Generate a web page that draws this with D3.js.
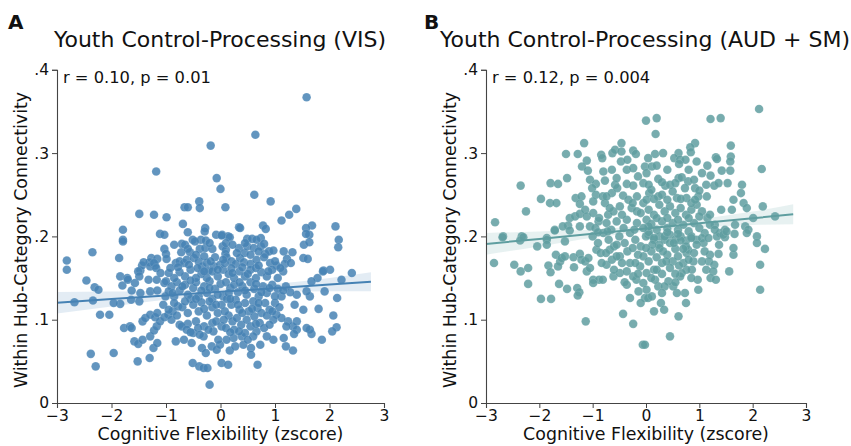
<!DOCTYPE html>
<html>
<head>
<meta charset="utf-8">
<script src="https://cdn.jsdelivr.net/npm/d3@7"></script>
<style>
  body { margin: 0; background: #fff; }
  text { font-family: "DejaVu Sans", sans-serif; fill: #111; }
</style>
</head>
<body>
<div class="chart"></div>
<script>
// panel titles, labels and stats
const panelLetters = ["A", "B"]
const panelTitles = ["Youth Control-Processing (VIS)", "Youth Control-Processing (AUD + SM)"]
const statTexts = ["r = 0.10, p = 0.01", "r = 0.12, p = 0.004"]
const xLabel = "Cognitive Flexibility (zscore)"
const yLabel = "Within Hub-Category Connectivity"
const xTicks = [-3, -2, -1, 0, 1, 2, 3]
const yTicks = [0, 0.1, 0.2, 0.3, 0.4]
const yTickLabels = ["0", ".1", ".2", ".3", ".4"]

// regression fit + confidence band
const fitX = [-3, -2, -1, 0, 1, 2, 2.76]
const fitA = [0.1204, 0.1248, 0.1291, 0.1335, 0.1379, 0.1422, 0.1456]
const loA  = [0.1074, 0.1158, 0.1241, 0.1295, 0.1329, 0.1342, 0.1341]
const hiA  = [0.1334, 0.1338, 0.1341, 0.1375, 0.1429, 0.1502, 0.1571]
const fitB = [0.1910, 0.1970, 0.2033, 0.2095, 0.2157, 0.2218, 0.2265]
const loB  = [0.1780, 0.1880, 0.1983, 0.2055, 0.2107, 0.2138, 0.2145]
const hiB  = [0.2040, 0.2060, 0.2083, 0.2135, 0.2207, 0.2298, 0.2385]

// scatter points [cognitive flexibility, connectivity]
const pointsA = [
[-0.18,0.309],[-1.18,0.278],[-0.07,0.270],[0.00,0.257],[-0.39,0.242],[-0.66,0.235],[-0.60,0.235],[-0.38,0.234],[0.09,0.235],[-1.49,0.227],[-1.22,0.226],[-0.99,0.223],[-0.69,0.215],[-0.28,0.210],[-0.29,0.206],[-1.79,0.208],[-0.60,0.205],[-1.11,0.203],[-1.03,0.202],[-0.08,0.202],[0.03,0.202],[-1.79,0.196],[-0.51,0.196],[-0.36,0.196],
[1.58,0.367],[0.64,0.322],[0.62,0.250],[0.92,0.242],[1.39,0.233],[1.26,0.226],[1.12,0.219],[0.34,0.211],[0.78,0.213],[0.83,0.209],[1.68,0.213],[1.57,0.210],[1.63,0.202],[2.11,0.212],[0.14,0.200],[0.49,0.197],[0.58,0.197],[0.74,0.198],[2.17,0.196],
[-1.79,0.194],[0.02,0.201],[0.17,0.199],[0.36,0.210],[2.16,0.187],[-1.86,0.174],[-2.35,0.181],[-2.82,0.171],[-2.82,0.160],[-2.46,0.147],[-1.84,0.152],[-1.71,0.150],
[-1.27,0.174],[-1.20,0.165],[-1.16,0.173],[-1.03,0.185],[-1.00,0.179],[-0.99,0.173],[-0.71,0.191],[-0.65,0.190],[-0.72,0.181],[-0.56,0.181],[-0.47,0.194],[-0.38,0.185],[-0.28,0.186],[-0.27,0.195],[0.04,0.188],[0.10,0.184],[0.09,0.179],[0.34,0.186],[0.44,0.180],[0.49,0.188],[0.61,0.186],[0.66,0.196],[0.74,0.188],[0.80,0.191],[0.82,0.179],[0.89,0.182],[0.97,0.183],[1.16,0.182],[1.22,0.173],[1.18,0.167],[1.29,0.168],[1.53,0.190],[1.57,0.203],[1.63,0.193],[1.52,0.174],[1.60,0.173],[1.89,0.159],[2.01,0.160],[2.41,0.156],
[-1.47,0.159],[-1.44,0.165],[-1.30,0.169],[-0.82,0.168],[-0.75,0.170],[-0.67,0.168],[-0.62,0.172],[-0.49,0.174],[-0.40,0.170],[-0.34,0.164],[-0.25,0.168],[-0.22,0.159],[-0.12,0.164],[-0.01,0.166],[0.11,0.175],[0.20,0.170],[0.28,0.167],[0.36,0.174],[0.43,0.169],[0.55,0.167],[0.66,0.172],[0.91,0.168],[1.03,0.165],
[-2.31,0.139],[-2.24,0.136],[-2.68,0.121],[-2.34,0.123],[-2.21,0.106],[-2.04,0.106],[-1.80,0.141],[-1.84,0.119],[-1.96,0.120],[-1.77,0.090],[-1.66,0.092],[-1.63,0.090],[-2.38,0.059],[-2.29,0.044],[-1.96,0.060],[-1.70,0.148],[-1.63,0.135],[-1.57,0.144],[-1.51,0.158],[-1.49,0.152],[-1.41,0.169],[-1.29,0.164],[-1.22,0.168],[-1.18,0.162],[-1.32,0.148],[-1.17,0.148],[-1.10,0.156],[-1.03,0.144],[-1.47,0.132],[-1.29,0.134],[-1.16,0.135],[-1.01,0.128],[-1.64,0.124],[-1.49,0.122],[-1.58,0.074],[-1.51,0.071],[-1.43,0.076],[-1.43,0.098],[-1.38,0.102],[-1.29,0.106],[-1.20,0.103],[-1.16,0.108],[-1.52,0.050],[-1.30,0.054],[-1.23,0.066],[-1.16,0.072],[-1.29,0.080],[-1.22,0.087],[-1.17,0.092],[-1.11,0.098],[-1.03,0.103],[-0.96,0.106],[-0.88,0.110],[-0.78,0.116],
[-1.00,0.146],[-0.90,0.140],[-0.80,0.145],[-0.75,0.135],[-0.65,0.142],[-0.60,0.130],[-0.50,0.138],[-0.45,0.145],[-0.40,0.128],[-0.30,0.140],[-0.25,0.132],[-0.20,0.146],[-0.15,0.125],[-0.10,0.137],[0.00,0.143],[0.05,0.128],[-0.55,0.125],[-0.85,0.128],[-0.95,0.134],
[-1.05,0.118],[-0.95,0.112],[-0.85,0.120],[-0.70,0.115],[-0.60,0.108],[-0.50,0.118],[-0.40,0.110],[-0.35,0.121],[-0.25,0.105],[-0.15,0.115],[-0.05,0.108],[0.02,0.118],[-0.60,0.095],[-0.45,0.098],[-0.30,0.092],[-0.15,0.096],[-0.90,0.100],[-0.75,0.094],
[-0.82,0.074],[-0.67,0.076],[-0.53,0.072],[-0.51,0.048],[-0.39,0.044],[-0.31,0.042],[-0.24,0.042],[-0.20,0.022],[0.02,0.048],[-0.34,0.066],[-0.27,0.060],[-0.16,0.068],[-0.07,0.064],[-0.01,0.070],[-0.71,0.092],[-0.62,0.088],[-0.50,0.084],[-0.41,0.090],[-0.31,0.080],[-0.13,0.086],[-0.04,0.076],[0.02,0.092],
[1.32,0.181],[1.78,0.150],[1.67,0.146],[2.22,0.148],[1.88,0.158],[1.91,0.134],[2.14,0.126],[1.64,0.128],[1.58,0.134],[1.40,0.130],[1.36,0.118],[1.52,0.112],[1.80,0.113],[2.07,0.105],[2.13,0.091],[2.05,0.086],[1.86,0.076],[1.67,0.083],[1.64,0.088],[1.58,0.090],[1.40,0.098],[1.33,0.092],[1.40,0.088],[1.35,0.083],[1.24,0.098],[1.21,0.092],[1.12,0.102],[1.03,0.106],[0.97,0.100],[1.16,0.078],[1.20,0.068],[1.33,0.063],[0.97,0.076],[0.85,0.080],[0.66,0.086],[0.73,0.070],[0.56,0.066],[0.56,0.058],[0.68,0.046],[0.14,0.046],[0.17,0.063],[0.42,0.070],[0.27,0.068],[0.39,0.080],[0.24,0.078],[0.11,0.076],
[0.10,0.145],[0.18,0.138],[0.25,0.142],[0.32,0.133],[0.40,0.140],[0.48,0.130],[0.55,0.145],[0.62,0.137],[0.70,0.128],[0.78,0.140],[0.85,0.132],[0.95,0.142],[1.05,0.137],[1.12,0.128],[1.20,0.140],[1.28,0.133],[0.12,0.125],[0.20,0.118],[0.28,0.124],[0.35,0.112],[0.45,0.120],[0.52,0.110],[0.60,0.122],[0.68,0.114],[0.75,0.108],[0.82,0.120],[0.90,0.112],[1.00,0.120],[1.08,0.115],[0.15,0.105],[0.22,0.098],[0.30,0.102],[0.38,0.094],[0.48,0.100],[0.55,0.092],[0.62,0.104],[0.72,0.096],[0.80,0.090],[0.90,0.094],[0.25,0.088],[0.10,0.090],[0.45,0.084],[0.60,0.080],
[0.05,0.160],[0.15,0.155],[0.25,0.150],[0.35,0.158],[0.45,0.152],[0.55,0.160],[0.65,0.150],[0.75,0.157],[0.85,0.152],[0.95,0.160],[1.05,0.150],[1.15,0.158],[-0.05,0.152],[-0.15,0.158],[-0.25,0.150],[-0.35,0.155],[-0.45,0.150],[-0.55,0.160],[-0.65,0.152],[-0.75,0.157],[-0.85,0.150],[-0.95,0.156],[0.30,0.180],[0.10,0.192],[0.55,0.178],[0.80,0.175],[-0.15,0.185],[-0.45,0.178],[-0.10,0.175],[0.65,0.162],[0.20,0.162],
[-0.92,0.162],[-0.78,0.163],[-0.58,0.166],[-0.42,0.162],[-0.30,0.158],[-0.18,0.170],[-0.05,0.160],[0.08,0.168],[0.22,0.156],[0.40,0.163],[0.50,0.155],[0.70,0.165],[0.88,0.158],[1.00,0.170],[1.10,0.162],
[-0.88,0.132],[-0.70,0.140],[-0.55,0.147],[-0.35,0.135],[-0.20,0.138],[-0.05,0.130],[0.15,0.132],[0.35,0.145],[0.45,0.135],[0.65,0.143],[0.75,0.133],[0.90,0.138],[1.00,0.128],[1.15,0.135],
[-0.80,0.105],[-0.65,0.122],[-0.45,0.125],[-0.30,0.113],[-0.20,0.122],[-0.08,0.118],[0.08,0.110],[0.18,0.125],[0.32,0.118],[0.40,0.108],[0.58,0.113],[0.70,0.120],[0.85,0.105],[0.95,0.110],
[-0.55,0.085],[-0.38,0.082],[-0.22,0.088],[-0.08,0.098],[0.06,0.100],[0.18,0.085],[0.34,0.086],[0.50,0.076],[0.65,0.095],
[-0.60,0.185],[-0.20,0.192],[0.22,0.190],[0.45,0.192],[0.70,0.182],[-0.85,0.190],[0.05,0.172],[-0.30,0.176]
]

const pointsB = [
[0.00,0.339],[-1.16,0.312],[-0.46,0.312],[-1.50,0.299],[-1.28,0.299],[-0.84,0.298],[-0.82,0.294],[-0.63,0.300],[-0.58,0.304],[-0.46,0.302],[-0.24,0.303],[-0.19,0.299],
[-1.11,0.291],[-1.20,0.284],[-1.09,0.279],[-0.64,0.280],[-0.47,0.290],[-0.36,0.280],[-0.24,0.282],[-0.02,0.284],[0.01,0.276],[-2.35,0.261],[-1.79,0.264],[-1.65,0.263],[-1.48,0.270],
[-1.05,0.268],[-0.94,0.263],[-0.77,0.267],[-0.58,0.262],[-0.36,0.263],[-0.24,0.261],[-0.05,0.264],[-1.01,0.258],[-0.94,0.250],[-0.81,0.248],[-0.64,0.252],[-0.54,0.258],[-0.43,0.249],
[-1.97,0.245],[-1.80,0.240],[-1.68,0.240],[-2.25,0.230],[-2.83,0.217],[-1.32,0.246],[-1.21,0.248],[-1.24,0.239],[-0.99,0.242],[-0.77,0.240],[-0.74,0.248],
[-1.43,0.222],[-1.33,0.224],[-1.24,0.227],[-1.46,0.213],[-1.56,0.212],[-1.71,0.208],[-1.14,0.232],[-1.11,0.224],[-0.99,0.228],[-0.89,0.218],[-1.05,0.212],[-1.24,0.212],
[-0.71,0.226],[-0.61,0.230],[-0.49,0.236],[-0.33,0.244],[-0.17,0.248],[-0.05,0.240],[-0.27,0.234],[-0.17,0.230],[-0.74,0.216],[-0.55,0.218],[-0.36,0.220],[-0.17,0.216],[0.01,0.220],
[-2.68,0.200],[-2.33,0.200],[-1.86,0.198],
[2.12,0.353],[1.21,0.341],[1.40,0.342],[0.20,0.342],[0.18,0.323],[0.92,0.312],[0.83,0.307],[0.84,0.301],[1.59,0.309],
[0.17,0.299],[0.32,0.300],[0.61,0.300],[0.53,0.294],[0.64,0.292],[0.74,0.292],[0.62,0.287],[0.04,0.294],[0.11,0.284],[0.20,0.285],[1.31,0.295],[1.33,0.293],[1.59,0.296],[1.58,0.290],[2.17,0.281],
[1.42,0.279],[1.58,0.279],[1.21,0.273],[1.13,0.262],[1.28,0.261],[1.36,0.264],[1.53,0.264],[1.80,0.262],[1.78,0.252],
[0.23,0.269],[0.36,0.261],[0.45,0.262],[0.61,0.270],[0.67,0.271],[0.79,0.266],[0.92,0.258],[0.73,0.258],
[1.14,0.248],[0.98,0.248],[0.76,0.246],[0.58,0.246],[0.23,0.248],[0.06,0.252],[0.01,0.244],
[1.64,0.244],[1.83,0.240],[1.89,0.234],[2.19,0.236],[1.61,0.232],[1.41,0.232],
[2.42,0.224],[2.01,0.222],[1.86,0.212],[1.67,0.214],[1.92,0.208],[2.08,0.200],[1.48,0.208],[1.39,0.204],[1.29,0.214],
[0.05,0.232],[0.15,0.226],[0.25,0.238],[0.35,0.230],[0.45,0.236],[0.55,0.228],[0.65,0.234],[0.75,0.226],[0.85,0.232],[0.95,0.238],[1.05,0.230],[1.15,0.222],[0.10,0.215],[0.20,0.208],[0.30,0.218],[0.40,0.210],[0.50,0.216],[0.60,0.208],[0.70,0.214],[0.80,0.206],[0.90,0.216],[1.00,0.210],[1.10,0.204],[1.20,0.214],[0.05,0.202],[0.15,0.196],[0.25,0.200],[0.35,0.196],[0.45,0.202],[0.55,0.196],[0.65,0.200],[0.75,0.195],[0.85,0.200],[0.95,0.196],[1.05,0.198],[0.10,0.256],[0.30,0.250],[0.50,0.254],[0.85,0.240],[1.00,0.255],
[-2.69,0.199],[-2.36,0.195],[-2.30,0.199],[-1.86,0.196],[-1.71,0.207],[-1.43,0.207],
[-2.85,0.168],[-2.47,0.166],[-2.35,0.158],[-2.21,0.162],[-2.21,0.143],[-1.97,0.125],[-1.78,0.125],
[-2.04,0.188],[-1.86,0.190],[-1.52,0.194],[-1.69,0.178],[-1.61,0.170],[-1.58,0.174],[-1.65,0.164],[-1.83,0.165],[-1.79,0.157],[-1.52,0.176],[-1.36,0.175],[-1.35,0.163],[-1.63,0.143],[-1.48,0.137],[-1.29,0.138],[-1.25,0.133],[-1.28,0.129],
[-1.24,0.179],[-1.21,0.172],[-1.14,0.170],[-1.08,0.174],[-1.11,0.158],[-1.05,0.162],[-0.99,0.148],[-0.88,0.148],[-0.81,0.148],[-0.99,0.144],
[-1.13,0.098],[-0.43,0.107],[-0.24,0.095],[-0.06,0.070],
[-0.30,0.126],[-0.14,0.134],[-0.02,0.126],[-0.36,0.142],[-0.18,0.148],[-0.61,0.152],[-0.49,0.156],[-0.74,0.166],[-0.64,0.172],[-0.83,0.168],[-0.93,0.184],[-0.68,0.184],[-0.49,0.176],[-0.30,0.168],[-0.11,0.164],[0.01,0.156],[-0.36,0.158],[-0.24,0.152],[-0.05,0.144],[0.01,0.136],
[-1.00,0.200],[-0.90,0.192],[-0.80,0.204],[-0.70,0.196],[-0.60,0.188],[-0.50,0.200],[-0.40,0.192],[-0.30,0.204],[-0.20,0.196],[-0.10,0.188],[0.00,0.200],[-0.85,0.180],[-0.55,0.176],[-0.35,0.182],[-0.15,0.178],[-0.45,0.168],[-0.25,0.186],[-0.05,0.176],[-0.65,0.208],[-0.95,0.210],
[2.14,0.166],[2.14,0.136],[2.23,0.185],[2.08,0.192],[1.89,0.204],
[1.56,0.158],[1.64,0.178],[1.64,0.186],[1.66,0.203],[1.48,0.199],[1.37,0.190],[1.36,0.179],
[1.20,0.178],[1.18,0.170],[1.28,0.166],[1.13,0.160],[1.26,0.158],[1.21,0.150],[1.31,0.148],[0.97,0.148],[0.98,0.136],
[1.08,0.192],[1.17,0.198],[1.33,0.200],[1.45,0.202],[1.51,0.206],[1.29,0.208],
[0.89,0.170],[0.86,0.160],[0.76,0.160],[0.67,0.156],[0.64,0.152],[0.76,0.180],[0.79,0.184],
[0.28,0.120],[0.34,0.112],[0.61,0.104],[0.45,0.080],[0.75,0.120],[0.73,0.132],[0.58,0.132],[0.51,0.140],[0.42,0.146],[0.23,0.140],[0.17,0.148],[0.04,0.126],[0.11,0.128],[-0.02,0.070],
[0.05,0.205],[0.15,0.198],[0.25,0.190],[0.35,0.200],[0.45,0.192],[0.55,0.185],[0.65,0.195],[0.75,0.188],[0.85,0.198],[0.95,0.190],[0.10,0.182],[0.20,0.175],[0.30,0.168],[0.40,0.178],[0.50,0.170],[0.60,0.176],[0.70,0.168],[0.15,0.160],[0.30,0.155],[0.45,0.162],[0.55,0.155],[0.05,0.170],[0.25,0.186],[0.40,0.205],[0.60,0.203],
[-0.88,0.222],[-0.68,0.234],[-0.45,0.226],[-0.25,0.240],[-0.10,0.228],[0.05,0.212],[0.20,0.222],[0.40,0.222],[0.60,0.220],[0.80,0.222],[1.00,0.224],[1.20,0.226],
[-0.90,0.205],[-0.72,0.206],[-0.42,0.210],[-0.22,0.208],[-0.05,0.210],[0.12,0.190],[0.32,0.182],[0.52,0.192],[0.70,0.185],[0.90,0.180],[1.10,0.182],
[-0.75,0.180],[-0.55,0.190],[-0.20,0.168],[0.00,0.186],[0.20,0.160],[0.38,0.170],[0.62,0.165],[0.80,0.172],[1.05,0.170],
[-0.60,0.160],[-0.40,0.145],[-0.15,0.155],[0.10,0.150],[0.35,0.140],[0.55,0.145],[0.85,0.150],[0.30,0.132],[-0.10,0.120],[0.15,0.110],
[0.15,0.245],[0.40,0.244],[0.65,0.245],[0.92,0.244],[0.30,0.265],[0.55,0.264],[0.05,0.262],[0.90,0.268],[-0.15,0.272],[0.40,0.280],[0.80,0.280],[1.05,0.276],[-0.55,0.270],[-0.80,0.278],[0.95,0.290],[1.15,0.285],[-0.35,0.292]
]

const w = 851
const h = 446

const svg = d3.select(".chart")
  .append("svg")
    .attr("width", w)
    .attr("height", h)

const panels = [
  { pts: pointsA, fit: fitA, lo: loA, hi: hiA, color: "#4682b4", x0: 57, x1: 384, letterX: 8, titleX: 220, yLabX: 22 },
  { pts: pointsB, fit: fitB, lo: loB, hi: hiB, color: "#5f9ea0", x0: 486, x1: 806, letterX: 424, titleX: 645, yLabX: 451 }
]

panels.forEach((p, i) => {
  const x = d3.scaleLinear().domain([-3, 3]).range([p.x0, p.x1])
  const y = d3.scaleLinear().domain([0, 0.4]).range([403, 69.8])
  const g = svg.append("g")

  // confidence band and fit line
  const band = fitX.map((v, j) => ({ x: v, lo: p.lo[j], hi: p.hi[j], f: p.fit[j] }))
  g.append("path")
    .datum(band)
    .attr("d", d3.area().curve(d3.curveMonotoneX).x(d => x(d.x)).y0(d => y(d.lo)).y1(d => y(d.hi)))
    .attr("fill", p.color)
    .attr("fill-opacity", 0.15)

  // scatter
  g.append("g")
    .selectAll("circle")
    .data(p.pts)
    .join("circle")
      .attr("cx", d => x(d[0]))
      .attr("cy", d => y(d[1]))
      .attr("r", 4.3)
      .style("fill", p.color)
      .style("fill-opacity", 0.85)
      .attr("stroke", "#fff")
      .attr("stroke-opacity", 0.3)
      .attr("stroke-width", 0.4)

  g.append("path")
    .datum(band)
    .attr("d", d3.line().x(d => x(d.x)).y(d => y(d.f)))
    .attr("fill", "none")
    .attr("stroke", p.color)
    .attr("stroke-width", 2)

  // axes
  const xAxis = g.append("g")
    .attr("transform", "translate(0,403)")
    .call(d3.axisBottom(x).tickValues(xTicks).tickSize(5).tickPadding(2).tickFormat(d => d < 0 ? "\u2212" + Math.abs(d) : d))
  const yAxis = g.append("g")
    .attr("transform", `translate(${p.x0},0)`)
    .call(d3.axisLeft(y).tickValues(yTicks).tickSize(5).tickPadding(3).tickFormat((d, j) => yTickLabels[j]))
  ;[xAxis, yAxis].forEach(a => {
    a.select(".domain").attr("stroke", "#444").attr("stroke-width", 1.1)
    a.selectAll(".tick line").attr("stroke", "#444")
    a.selectAll("text").style("font-size", "15.5px").style("font-family", "DejaVu Sans").attr("fill", "#111")
  })

  // text
  svg.append("text")
    .attr("x", p.letterX).attr("y", 29)
    .style("font-size", "20px").style("font-weight", "bold")
    .text(panelLetters[i])
  svg.append("text")
    .attr("x", p.titleX).attr("y", 47)
    .attr("text-anchor", "middle")
    .style("font-size", "22px")
    .text(panelTitles[i])
  svg.append("text")
    .attr("x", p.x0 + 6).attr("y", 83)
    .style("font-size", "16.3px")
    .text(statTexts[i])
  svg.append("text")
    .attr("x", (p.x0 + p.x1) / 2).attr("y", 440)
    .attr("text-anchor", "middle")
    .style("font-size", "17.4px")
    .text(xLabel)
  svg.append("text")
    .attr("transform", `translate(${p.yLabX + 5},240) rotate(-90)`)
    .attr("text-anchor", "middle")
    .style("font-size", "17.4px")
    .text(yLabel)
})
</script>
</body>
</html>
